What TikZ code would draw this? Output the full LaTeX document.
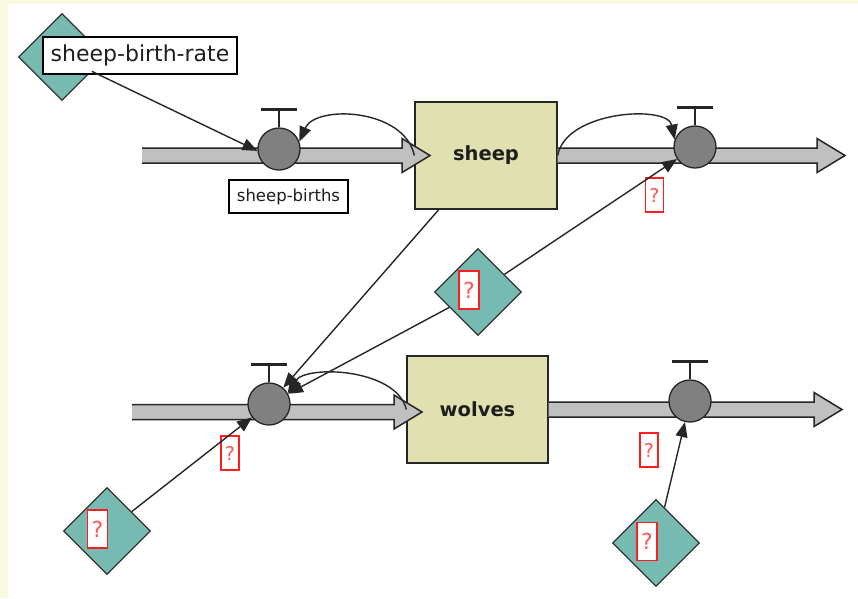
\documentclass[tikz,border=0pt]{standalone}
\usepackage{fontspec}
\setmainfont{DejaVu Sans}
\usetikzlibrary{shapes.geometric,arrows.meta,calc}
\definecolor{cream}{RGB}{250,250,226}
\definecolor{tealaux}{RGB}{118,186,178}
\definecolor{khaki}{RGB}{224,224,176}
\definecolor{valvegray}{RGB}{128,128,128}
\definecolor{pipegray}{RGB}{192,192,192}
\definecolor{qred}{RGB}{255,30,30}
\definecolor{qtext}{RGB}{255,85,85}
\definecolor{textgray}{RGB}{30,30,30}
\tikzset{
  stock/.style={draw=black!85, line width=1.3pt, fill=khaki, minimum width=142pt, minimum height=107pt, inner sep=0pt, font=\fontsize{19.5}{23}\selectfont\bfseries, text=textgray},
  valve/.style={circle, draw=black!85, line width=1.3pt, fill=valvegray, minimum size=42pt, inner sep=0pt},
  aux/.style={diamond, draw=black!80, line width=1.3pt, fill=tealaux, minimum width=87pt, minimum height=87pt, inner sep=0pt},
  namebox/.style={draw=black, line width=1.3pt, fill=white, inner sep=0pt, text=textgray},
  qbox/.style={draw=qred, line width=1.4pt, fill=white, inner sep=0pt, text=qtext, minimum width=18pt, minimum height=34pt, font=\fontsize{19}{21}\selectfont},
  qboxbig/.style={qbox, minimum width=20pt, minimum height=38pt, font=\fontsize{22}{25}\selectfont},
  link/.style={draw=black!85, line width=1.4pt, -{Triangle[length=15pt,width=12pt]}},
  stemline/.style={line width=2pt, black!85},
  barline/.style={line width=3pt, black!85},
  pipeline/.style={line width=1.5pt, black!85, line join=miter},
}
\newcommand\flowpipe[2]{%
  \fill[pipegray] let \p1=(#1), \p2=(#2) in
    ({\x1},{\y1+7.5pt}) -- ({\x2-28pt},{\y1+7.5pt}) -- ({\x2-28pt},{\y1+17pt}) -- ({\x2},{\y1})
    -- ({\x2-28pt},{\y1-17pt}) -- ({\x2-28pt},{\y1-7.5pt}) -- ({\x1},{\y1-7.5pt}) -- cycle;
  \draw[pipeline] let \p1=(#1), \p2=(#2) in
    ({\x1},{\y1+7.5pt}) -- ({\x2-28pt},{\y1+7.5pt}) -- ({\x2-28pt},{\y1+17pt}) -- ({\x2},{\y1})
    -- ({\x2-28pt},{\y1-17pt}) -- ({\x2-28pt},{\y1-7.5pt}) -- ({\x1},{\y1-7.5pt});
}
\newcommand\drawvalve[2]{%
  \node[valve] (#1) at (#2) {};
  \draw[stemline] (#1.north) -- ++(0,-18);
  \draw[barline] ([shift={(-18,-18)}]#1.north) -- ++(36,0);
}
\begin{document}
\begin{tikzpicture}[x=1pt,y=-1pt]
  \useasboundingbox (0,0) rectangle (858,598);
  \fill[cream] (0,0) rectangle (858,598);
  \fill[white] (8,4) rectangle (858,598);

  % stocks
  \node[stock] (sheep) at (486,155.5) {sheep};
  \node[stock, minimum width=141pt] (wolves) at (477.5,409.5) {wolves};

  % flow pipes
  \coordinate (in1) at (142,155.5);
  \coordinate (tip1) at (430,155.5);
  \coordinate (tip2) at (845,155.5);
  \coordinate (in2) at (132,412);
  \coordinate (tip3) at (422,412);
  \coordinate (tip4) at (842,409.5);
  \flowpipe{in1}{tip1}
  \flowpipe{sheep.east}{tip2}
  \flowpipe{in2}{tip3}
  \flowpipe{wolves.east}{tip4}

  % valves
  \drawvalve{vtl}{279,149}
  \drawvalve{vtr}{695,147}
  \drawvalve{vbl}{269,404}
  \drawvalve{vbr}{690,401}

  % auxiliaries
  \node[aux] (sbr) at (62,57) {};
  \node[aux] (dmid) at (478,292) {};
  \node[aux] (dbl) at (107,531) {};
  \node[aux] (dbr) at (656,543) {};

  % labels
  \node[namebox, minimum width=194pt, minimum height=37pt, font=\fontsize{22}{26}\selectfont] (sbrlabel) at (140,55.5) {sheep-birth-rate};
  \node[namebox, minimum width=119pt, minimum height=33pt, font=\fontsize{16.5}{19}\selectfont] (sblabel) at (288.5,196.5) {sheep-births};
  \node[qbox] (qtr) at (654.5,195) {?};
  \node[qbox] (qbl) at (230,453) {?};
  \node[qbox] (qbr) at (649,450) {?};
  \node[qboxbig] (qdmid) at (469,290) {?};
  \node[qboxbig] (qdbl) at (97.5,529) {?};
  \node[qboxbig] (qdbr) at (647,541.5) {?};

  % connectors
  \draw[link] (sbr) -- (vtl.185);
  \draw[link] (sheep.west) .. controls +(-10,-47.5) and +(16,-37) .. (vtl.20);
  \draw[link] (sheep.east) .. controls +(8,-45) and +(-7,-35) .. (vtr.160);
  \draw[link] (wolves.west) .. controls +(-10,-41.5) and +(18,-28.5) .. (vbl.30);
  \draw[link] (sheep) -- (vbl);
  \draw[link] (dmid) -- (vtr);
  \draw[link] (dmid) -- (vbl);
  \draw[link] (dbl) -- (vbl);
  \draw[link] (dbr) -- (vbr);
\end{tikzpicture}
\end{document}
